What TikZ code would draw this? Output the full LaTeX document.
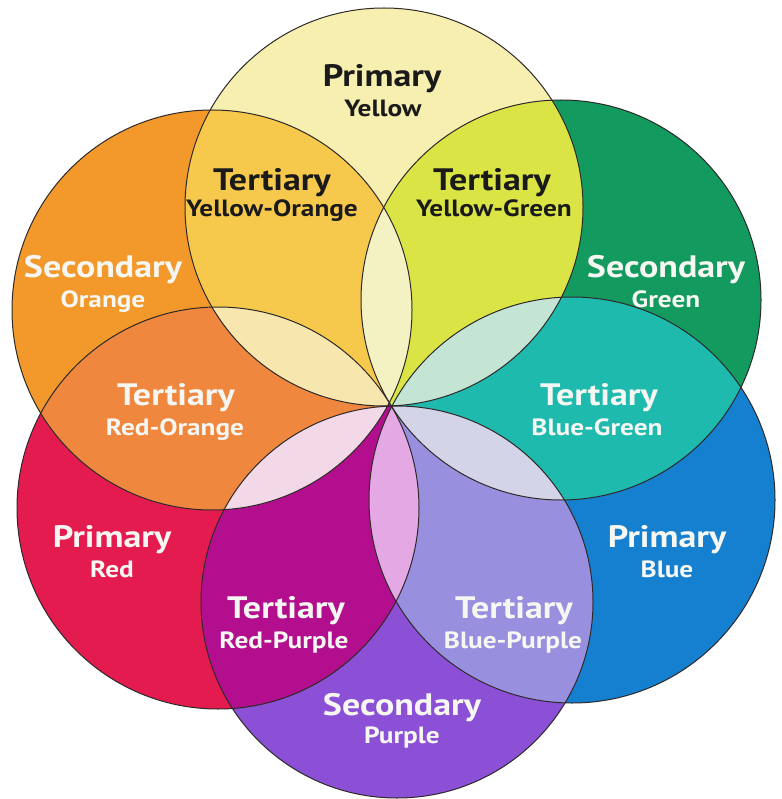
\documentclass[tikz,border=0pt]{standalone}
\usepackage{fontspec}
\setmainfont{PT Sans}[FakeStretch=1.16]
\definecolor{cYel}{HTML}{F6EFB0}
\definecolor{cOra}{HTML}{F3992C}
\definecolor{cGre}{HTML}{139A5E}
\definecolor{cBlu}{HTML}{1480CF}
\definecolor{cPur}{HTML}{8B50D6}
\definecolor{cRed}{HTML}{E31B4F}
\definecolor{tYO}{HTML}{F6C84C}
\definecolor{tYG}{HTML}{DAE545}
\definecolor{tBG}{HTML}{1EBAAE}
\definecolor{tBP}{HTML}{9890DE}
\definecolor{tRP}{HTML}{B20E8E}
\definecolor{tRO}{HTML}{EF883E}
\definecolor{pYel}{HTML}{F4F1C2}
\definecolor{pOra}{HTML}{F7E6AE}
\definecolor{pGre}{HTML}{C4E4D4}
\definecolor{pBlu}{HTML}{D4D4E8}
\definecolor{pPur}{HTML}{E4A8E4}
\definecolor{pRed}{HTML}{F3D8E8}
\definecolor{txtW}{HTML}{F6F6F2}
\definecolor{txtB}{HTML}{1A1A1A}
\definecolor{lineC}{HTML}{2E2A2A}
\newcommand{\CY}{(384,207) circle[radius=199pt]}
\newcommand{\CO}{(212,310) circle[radius=200pt]}
\newcommand{\CG}{(561,300) circle[radius=200pt]}
\newcommand{\CB}{(572,500) circle[radius=203pt]}
\newcommand{\CP}{(397,602) circle[radius=196pt]}
\newcommand{\CR}{(218,508) circle[radius=201pt]}
\begin{document}
\begin{tikzpicture}[x=1pt,y=-1pt,
  big/.style={font=\bfseries\fontsize{31}{31}\selectfont, anchor=base, inner sep=0pt},
  small/.style={font=\bfseries\fontsize{23.5}{24}\selectfont, anchor=base, inner sep=0pt},
  wt/.style={text=txtW}, bk/.style={text=txtB},
  outline/.style={draw=lineC, line width=1pt}]
\fill[white] (0,0) rectangle (781,799);
\useasboundingbox (0,0) rectangle (781,799);
% single circles
\fill[cYel] \CY;
\fill[cOra] \CO;
\fill[cGre] \CG;
\fill[cBlu] \CB;
\fill[cPur] \CP;
\fill[cRed] \CR;
% adjacent overlaps (tertiary)
\begin{scope}\clip \CY; \fill[tYO] \CO; \end{scope}
\begin{scope}\clip \CY; \fill[tYG] \CG; \end{scope}
\begin{scope}\clip \CG; \fill[tBG] \CB; \end{scope}
\begin{scope}\clip \CB; \fill[tBP] \CP; \end{scope}
\begin{scope}\clip \CP; \fill[tRP] \CR; \end{scope}
\begin{scope}\clip \CR; \fill[tRO] \CO; \end{scope}
% triple overlaps (petals)
\begin{scope}\clip \CO; \clip \CG; \fill[pYel] \CY; \end{scope}
\begin{scope}\clip \CY; \clip \CB; \fill[pGre] \CG; \end{scope}
\begin{scope}\clip \CG; \clip \CP; \fill[pBlu] \CB; \end{scope}
\begin{scope}\clip \CB; \clip \CR; \fill[pPur] \CP; \end{scope}
\begin{scope}\clip \CP; \clip \CO; \fill[pRed] \CR; \end{scope}
\begin{scope}\clip \CR; \clip \CY; \fill[pOra] \CO; \end{scope}
% outlines
\draw[outline] \CY;
\draw[outline] \CO;
\draw[outline] \CG;
\draw[outline] \CB;
\draw[outline] \CP;
\draw[outline] \CR;
% labels
\node[big,bk] (yA) at (382,87) {Primary};
\node[small,bk] (yB) at (383,117) {Yellow};
\node[big,bk] (yoA) at (272,191) {Tertiary};
\node[small,bk] (yoB) at (272,217) {Yellow-Orange};
\node[big,bk] (ygA) at (492,191) {Tertiary};
\node[small,bk] (ygB) at (494,217) {Yellow-Green};
\node[big,wt] (oA) at (103,277) {Secondary};
\node[small,wt] (oB) at (103,307) {Orange};
\node[big,wt] (gA) at (666,277) {Secondary};
\node[small,wt] (gB) at (666,307) {Green};
\node[big,wt] (roA) at (176,405) {Tertiary};
\node[small,wt] (roB) at (175,435) {Red-Orange};
\node[big,wt] (bgA) at (599,405) {Tertiary};
\node[small,wt] (bgB) at (597,435) {Blue-Green};
\node[big,wt] (rA) at (112,547) {Primary};
\node[small,wt] (rB) at (112,577) {Red};
\node[big,wt] (bA) at (667,547) {Primary};
\node[small,wt] (bB) at (667,577) {Blue};
\node[big,wt] (rpA) at (286,618) {Tertiary};
\node[small,wt] (rpB) at (284,648) {Red-Purple};
\node[big,wt] (bpA) at (514,618) {Tertiary};
\node[small,wt] (bpB) at (513,648) {Blue-Purple};
\node[big,wt] (pA) at (402,715) {Secondary};
\node[small,wt] (pB) at (402,743) {Purple};
\end{tikzpicture}
\end{document}
